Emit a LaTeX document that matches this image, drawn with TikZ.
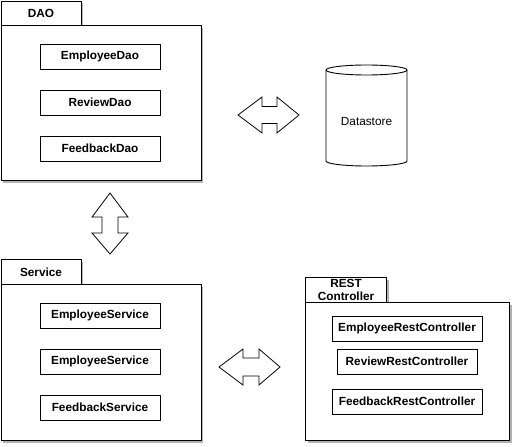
\documentclass[tikz,border=0pt]{standalone}
\usepackage{fontspec}
\setmainfont{Liberation Sans}
\usetikzlibrary{shadows}

\newcommand\diafont{\fontsize{11.8}{12.5}\selectfont}

\tikzset{
  pkg/.style={draw, fill=white, line width=1pt, inner sep=0pt, anchor=north west,
    font=\diafont\bfseries,
    drop shadow={shadow xshift=2pt, shadow yshift=-2pt, opacity=.3, fill=black}},
  cls/.style={draw, fill=white, line width=.9pt, minimum width=120pt, minimum height=25pt,
    inner sep=0pt, font=\diafont\bfseries},
  twoway/.style={draw, fill=white, line width=.8pt, line join=miter},
}

\begin{document}
\begin{tikzpicture}[x=1pt, y=-1pt, font=\diafont]
\useasboundingbox (0,0) rectangle (515,447);

% DAO
\node[pkg, minimum width=80pt, minimum height=25pt] (daotab) at (0.5,0.5) {DAO};
\node[pkg, minimum width=200pt, minimum height=155pt] (dao) at (0.5,25) {};
\node[cls] (empdao) at (100,56.5) {EmployeeDao};
\node[cls] (revdao) at (100,102.5) {ReviewDao};
\node[cls] (fbdao) at (100,148.5) {FeedbackDao};

% Datastore
\draw[line width=.9pt] (326,70) -- (326,161) arc[start angle=180, end angle=0, x radius=40.5, y radius=5] -- (407,70);
\draw[line width=.9pt, fill=white] (366.5,70) ellipse [x radius=40.5, y radius=5];
\node (store) at (366.5,121) {Datastore};

% Service
\node[pkg, minimum width=80pt, minimum height=25pt] (srvtab) at (0.5,259) {Service};
\node[pkg, minimum width=200pt, minimum height=156pt] (srv) at (0.5,284) {};
\node[cls] (empsrv) at (100,315.5) {EmployeeService};
\node[cls] (empsrv2) at (100,361.5) {EmployeeService};
\node[cls] (fbsrv) at (100,407.5) {FeedbackService};

% REST Controller
\node[pkg, minimum width=81pt, minimum height=25pt, align=center] (resttab) at (305,277) {REST\\Controller};
\node[pkg, minimum width=204pt, minimum height=138pt] (rest) at (305,302) {};
\node[cls, minimum width=150pt] (emprest) at (407,328.5) {EmployeeRestController};
\node[cls, minimum width=140pt] (revrest) at (407,361.5) {ReviewRestController};
\node[cls, minimum width=150pt] (fbrest) at (407,401.5) {FeedbackRestController};

% arrows
\draw[twoway] (238,115) -- (262,97) -- (262,106.5) -- (277,106.5) -- (277,97) -- (299,115)
  -- (277,133) -- (277,123.5) -- (262,123.5) -- (262,133) -- cycle;
\draw[twoway] (110,193) -- (128,217) -- (118,217) -- (118,233) -- (128,233) -- (110,254)
  -- (92,233) -- (102,233) -- (102,217) -- (92,217) -- cycle;
\draw[twoway] (219,367) -- (243,349) -- (243,358) -- (259,358) -- (259,349) -- (280,367)
  -- (259,385) -- (259,376) -- (243,376) -- (243,385) -- cycle;

\end{tikzpicture}
\end{document}
